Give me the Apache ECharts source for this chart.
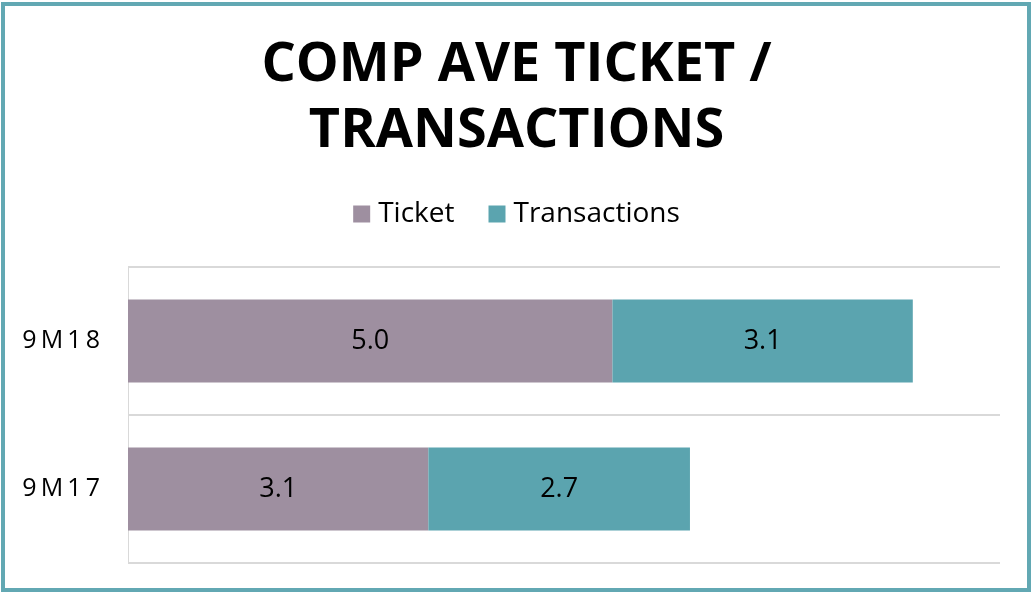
<!DOCTYPE html>
<html>
<head>
<meta charset="utf-8">
<script src="https://cdn.jsdelivr.net/npm/echarts@6/dist/echarts.min.js"></script>
<style>
  html, body { margin: 0; padding: 0; background: #fff; }
  #chart { width: 1033px; height: 592px; }
</style>
</head>
<body>
<div id="chart"></div>
<script>
var categories = ['9M17', '9M18'];
var ticket = [3.1, 5.0];
var transactions = [2.7, 3.1];

var chart = echarts.init(document.getElementById('chart'));

var labelStyle = {
    show: true,
    position: 'inside',
    color: '#000',
    fontSize: 27,
    fontFamily: 'Open Sans',
    formatter: function (p) { return p.value.toFixed(1); }
};

option = {
    backgroundColor: '#fff',
    animation: false,
    title: {
        text: 'COMP AVE TICKET /\nTRANSACTIONS',
        left: 'center',
        top: 28,
        textStyle: {
            fontFamily: 'Open Sans',
            fontWeight: 'bold',
            fontSize: 54,
            lineHeight: 66,
            color: '#000'
        }
    },
    legend: {
        top: 195,
        left: 'center',
        itemWidth: 17,
        itemHeight: 17,
        itemGap: 34,
        icon: 'rect',
        textStyle: { fontFamily: 'Open Sans', fontSize: 28, color: '#000', padding: [0, 0, 0, 3] },
        data: ['Ticket', 'Transactions']
    },
    graphic: [{
        type: 'rect',
        shape: { x: 3, y: 4, width: 1026, height: 586 },
        style: { fill: 'none', stroke: '#62A8B3', lineWidth: 4 },
        silent: true
    }],
    grid: { left: 128, right: 33, top: 267, bottom: 29 },
    xAxis: {
        type: 'value',
        min: 0,
        max: 9,
        show: false
    },
    yAxis: {
        type: 'category',
        data: categories,
        axisLine: { show: true, lineStyle: { color: '#d9d9d9', width: 1 } },
        axisTick: { show: false },
        splitLine: { show: true, lineStyle: { color: '#d9d9d9', width: 2 } },
        axisLabel: {
            margin: 28,
            color: '#000',
            fontSize: 25,
            fontFamily: 'Open Sans',
            formatter: function (v) { return v.split('').join('\u2009'); }
        }
    },
    series: [{
        name: 'Ticket',
        type: 'bar',
        stack: 'total',
        barWidth: '56%',
        itemStyle: { color: '#9E8FA0' },
        label: labelStyle,
        data: ticket
    }, {
        name: 'Transactions',
        type: 'bar',
        stack: 'total',
        barWidth: '56%',
        itemStyle: { color: '#5BA4AF' },
        label: labelStyle,
        data: transactions
    }]
};

chart.setOption(option);
</script>
</body>
</html>
